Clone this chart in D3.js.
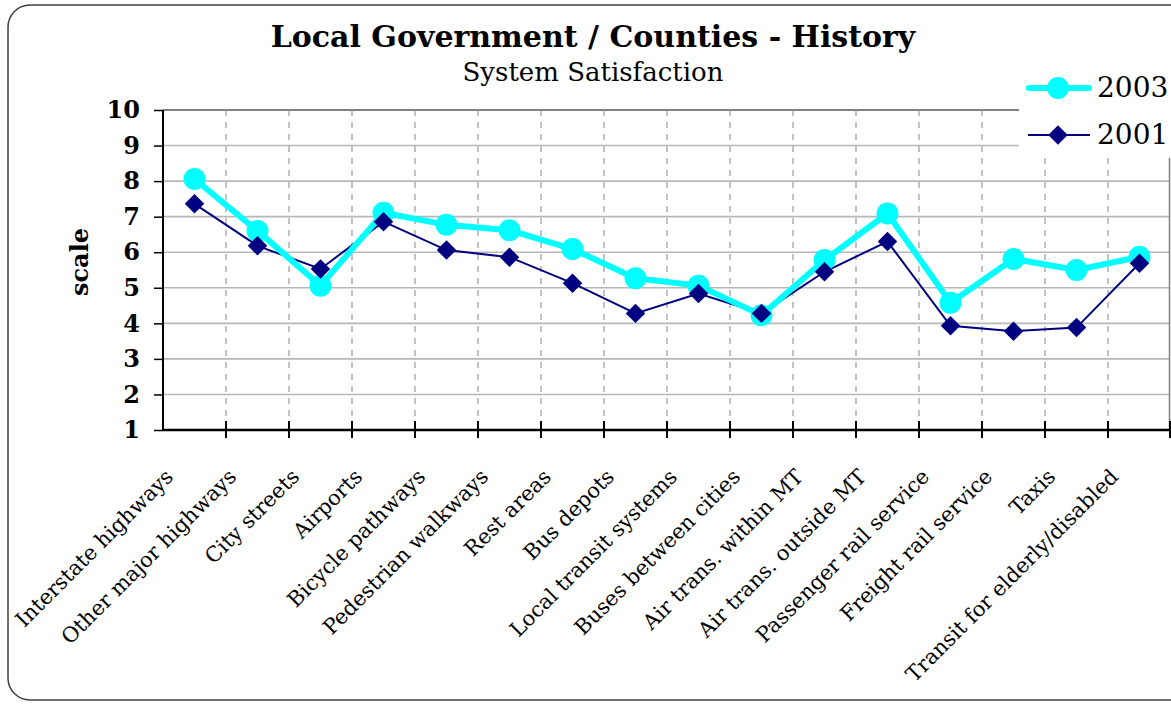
<!DOCTYPE html>
<html><head><meta charset="utf-8">
<script src="https://cdn.jsdelivr.net/npm/d3@7"></script>
<style>html,body{margin:0;padding:0;background:#fff;}svg{display:block;}</style>
</head><body>
<svg id="chart" width="1171" height="704"></svg>
<script>
const categories = ["Interstate highways","Other major highways","City streets","Airports","Bicycle pathways","Pedestrian walkways","Rest areas","Bus depots","Local transit systems","Buses between cities","Air trans. within MT","Air trans. outside MT","Passenger rail service","Freight rail service","Taxis","Transit for elderly/disabled"];
const values2003 = [8.06,6.6,5.06,7.11,6.77,6.62,6.09,5.27,5.06,4.23,5.78,7.09,4.58,5.81,5.5,5.87];
const values2001 = [7.36,6.18,5.53,6.86,6.06,5.86,5.13,4.28,4.84,4.28,5.45,6.3,3.93,3.78,3.88,5.69];
const yTicks = [1,2,3,4,5,6,7,8,9,10];
const seriesNames = ["2003","2001"];

const svg = d3.select("#chart");
const serif = "'DejaVu Serif', serif";
const L = 163, R = 1171, T = 110, B = 430;

// outer frame
svg.append("rect").attr("x",8).attr("y",5).attr("width",1200).attr("height",695)
  .attr("rx",22).attr("ry",22).attr("fill","#fff").attr("stroke","#404040").attr("stroke-width",1.5);

const x = d3.scaleBand().domain(categories).range([L,R]).padding(0);
const y = d3.scaleLinear().domain([1,10]).range([B,T]);
const cx = (i)=>x(categories[i])+x.bandwidth()/2;

// horizontal gridlines
svg.append("g").selectAll("line").data(yTicks.filter(t=>t>1 && t<10)).join("line")
  .attr("x1",L).attr("x2",R-1).attr("y1",d=>y(d)).attr("y2",d=>y(d))
  .attr("stroke","#b8b8b8").attr("stroke-width",1.6);
// top border
svg.append("line").attr("x1",L).attr("x2",R-1).attr("y1",y(10)).attr("y2",y(10))
  .attr("stroke","#808080").attr("stroke-width",2);
// right border
svg.append("line").attr("x1",R-1.5).attr("x2",R-1.5).attr("y1",T).attr("y2",B)
  .attr("stroke","#808080").attr("stroke-width",1.5);
// vertical dashed
svg.append("g").selectAll("line").data(categories.slice(1)).join("line")
  .attr("x1",d=>x(d)).attr("x2",d=>x(d)).attr("y1",T).attr("y2",B)
  .attr("stroke","#999").attr("stroke-width",1.2).attr("stroke-dasharray","6,6");

// x axis
const xAxis = d3.axisBottom(x).tickSize(0).tickFormat("");
const gx = svg.append("g").attr("transform",`translate(0,${B})`).call(xAxis);
gx.select(".domain").attr("stroke","#000").attr("stroke-width",2.5).attr("d",`M${L},0H${R}`);
gx.selectAll(".tick").remove();
gx.selectAll("line.tk").data(categories.slice(1).map(c=>x(c)).concat([R-1])).join("line")
  .attr("class","tk").attr("x1",d=>d).attr("x2",d=>d).attr("y1",-9).attr("y2",8)
  .attr("stroke","#000").attr("stroke-width",2);

// x labels
svg.append("g").selectAll("text").data(categories).join("text")
  .attr("transform",(d,i)=>`translate(${cx(i)-20},478) rotate(-45)`)
  .attr("text-anchor","end").attr("font-family",serif).attr("font-size",21).attr("fill","#000")
  .text(d=>d);

// y axis
const yAxis = d3.axisLeft(y).tickValues(yTicks).tickSize(9).tickPadding(14).tickFormat(d3.format("d"));
const gy = svg.append("g").attr("transform",`translate(${L},0)`).call(yAxis);
gy.select(".domain").attr("stroke","#000").attr("stroke-width",2).attr("d",`M0,${T}V${B}`);
gy.selectAll(".tick line").attr("stroke","#000").attr("stroke-width",1.5);
gy.selectAll(".tick text").attr("font-family",serif).attr("font-weight","bold").attr("font-size",24).attr("fill","#000");

// y title
svg.append("text").attr("transform",`translate(88,262) rotate(-90)`).attr("text-anchor","middle")
  .attr("font-family",serif).attr("font-weight","bold").attr("font-size",24).text("scale");

// title
svg.append("text").attr("x",593).attr("y",47).attr("text-anchor","middle")
  .attr("font-family",serif).attr("font-weight","bold").attr("font-size",30).text("Local Government / Counties - History");
svg.append("text").attr("x",593).attr("y",81).attr("text-anchor","middle")
  .attr("font-family",serif).attr("font-size",26).text("System Satisfaction");

const line = d3.line().x((d,i)=>cx(i)).y(d=>y(d));

// 2001 series line
svg.append("path").datum(values2001).attr("d",line).attr("fill","none").attr("stroke","#000080").attr("stroke-width",2);
// 2003 series
svg.append("path").datum(values2003).attr("d",line).attr("fill","none").attr("stroke","#00FFFF").attr("stroke-width",6).attr("stroke-linejoin","round");
svg.append("g").selectAll("circle").data(values2003).join("circle")
  .attr("cx",(d,i)=>cx(i)).attr("cy",d=>y(d)).attr("r",11).attr("fill","#00FFFF");
// 2001 markers
svg.append("g").selectAll("path").data(values2001).join("path")
  .attr("d",d3.symbol().type(d3.symbolSquare).size(190))
  .attr("transform",(d,i)=>`translate(${cx(i)},${y(d)}) rotate(45)`)
  .attr("fill","#000080");

// legend
const lg = svg.append("g");
lg.append("rect").attr("x",1019).attr("y",58).attr("width",160).attr("height",100).attr("fill","#fff");
lg.append("line").attr("x1",1029).attr("x2",1089).attr("y1",88).attr("y2",88).attr("stroke","#00FFFF").attr("stroke-width",6).attr("stroke-linecap","round");
lg.append("circle").attr("cx",1058).attr("cy",88).attr("r",11).attr("fill","#00FFFF");
lg.append("text").attr("x",1097).attr("y",97).attr("font-family",serif).attr("font-size",28).text(seriesNames[0]);
lg.append("line").attr("x1",1028).attr("x2",1090).attr("y1",135).attr("y2",135).attr("stroke","#000080").attr("stroke-width",2);
lg.append("path").attr("d",d3.symbol().type(d3.symbolSquare).size(190)).attr("transform","translate(1058,135) rotate(45)").attr("fill","#000080");
lg.append("text").attr("x",1097).attr("y",144).attr("font-family",serif).attr("font-size",28).text(seriesNames[1]);
</script>
</body></html>
